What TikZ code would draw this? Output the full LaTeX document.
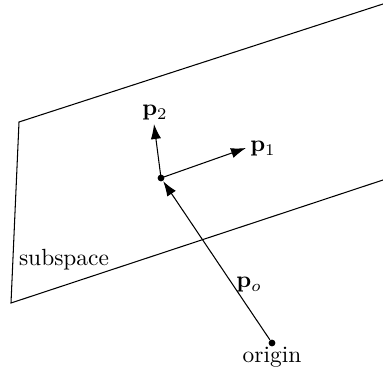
\documentclass[tikz,border=0pt]{standalone}
\usetikzlibrary{arrows.meta}
\begin{document}
\begin{tikzpicture}[x=0.4274pt,y=-0.4274pt,
  vec/.style={line width=0.45pt,-{Latex[length=6.4pt,width=4.4pt]}},
  dotnode/.style={circle,fill=black,inner sep=0pt,minimum size=2.9pt},
  lbl/.style={inner sep=1pt}]
\useasboundingbox (0,0) rectangle (383,373);
% plane
\draw[line width=0.45pt] (383,4) -- (19,122) -- (11,303) -- (383,180);
% points
\node[dotnode] (P) at (161,178) {};
\node[dotnode] (O) at (272,343) {};
\coordinate (T2) at (154,124);
\coordinate (T1) at (246,148);
\draw[vec] (O) -- (P);
\draw[vec] (P.center) -- (T2);
\draw[vec] (P.center) -- (T1);
% labels
\node[lbl] (l2) at (155,113) {$\mathbf{p}_2$};
\node[lbl] (l1) at (263,149) {$\mathbf{p}_1$};
\node[lbl] (lo) at (249,285) {$\mathbf{p}_o$};
\node[lbl] (ls) at (64,260) {subspace};
\node[lbl] (lor) at (272,357) {origin};
\end{tikzpicture}
\end{document}
